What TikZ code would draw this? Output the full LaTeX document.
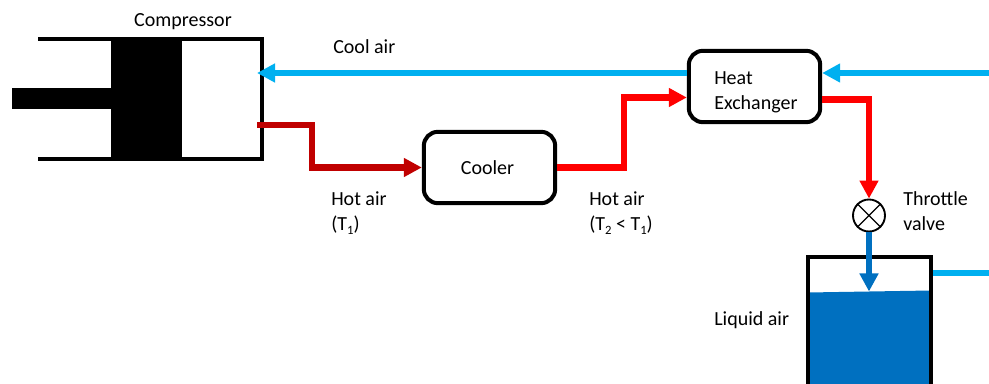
\documentclass[tikz,border=0pt]{standalone}
\usepackage{fontspec}
\setmainfont{Carlito}
\usetikzlibrary{calc,positioning,arrows.meta}
\definecolor{Cool}{HTML}{00B0F0}
\definecolor{Hot}{HTML}{FF0000}
\definecolor{HotDark}{HTML}{C00000}
\definecolor{Liquid}{HTML}{0070C0}
\newcommand{\subnum}[1]{\raisebox{-3pt}{\fontsize{9.5}{10}\selectfont #1}}
\tikzset{
  unitbox/.style={draw=black,fill=white,rounded corners=10.5pt,line width=3pt,minimum width=98.5pt,minimum height=53.5pt,inner sep=0pt,align=left},
  caption/.style={inner sep=0pt,align=left,anchor=west},
  wall/.style={black,line width=3pt,line join=miter},
  pipe/.style={line width=4.6pt,line join=miter},
  flow/.style={pipe,-{Triangle[length=13.5pt,width=13.5pt]}}
}
\begin{document}
\begin{tikzpicture}[x=.75pt,y=-.75pt,font=\fontsize{15}{18.75}\selectfont]
\useasboundingbox (0,0) rectangle (989,384);
% compressor
\draw[wall] (38,39)--(261.5,39)--(261.5,159)--(38,159);
\node[fill=black,minimum width=53.25pt,minimum height=93pt,inner sep=0pt] (piston) at (146.5,99) {};
\node[fill=black,minimum height=15.75pt,minimum width=75pt,inner sep=0pt,anchor=west] (rod) at (12,98.5) {};
\node[inner sep=0pt] (comp) at (183,21.5) {Compressor};
\coordinate (coolin) at (257,73);
\coordinate (hotout) at (257,125);
% boxes
\node[unitbox] (cooler) at (489.5,167.5) {\hspace*{-3pt}Cooler};
\node[unitbox] (hx) at (754.5,86.5) {};
\node[circle,draw=black,fill=white,line width=1.4pt,minimum size=24pt,inner sep=0pt] (valve) at (869,215.5) {};
\draw[black,line width=1pt] (valve.north west)--(valve.south east) (valve.north east)--(valve.south west);
% tank
\fill[Liquid] (808,292.5)--(931,290.5)--(931,384)--(808,384)--cycle;
\draw[wall] (808,384)--(808,257)--(931,257)--(931,384);
\coordinate (tankout) at (933,273);
\coordinate (coldin) at (989,73);
\coordinate (coldout) at (989,273);
\coordinate (hxa) at (hx.west |- coolin);
\coordinate (hxb) at (hx.east |- coolin);
\coordinate (hxc) at (hx.west |- 0,97.5);
\coordinate (hxd) at (hx.east |- 0,99.5);
\coordinate (level) at (869,291.5);
% pipes
\draw[flow,Cool] (hxa)--(coolin);
\draw[flow,Cool] (coldin)--(hxb);
\draw[pipe,Cool] (tankout)--(coldout);
\draw[flow,HotDark] (hotout)-|(312,140)|-(cooler.west);
\draw[flow,Hot] (cooler.east)-|(624,130)|-(hxc);
\draw[flow,Hot] (hxd)-|(valve.north);
\draw[flow,Liquid] (valve.south)--(level);
% labels
\node[caption] (coolair) at (333,47) {Cool air};
\node[caption] (hxname) at (714,92) {Heat\\Exchanger};
\node[caption] (hota) at (331,213) {Hot air\\(T\subnum{1})};
\node[caption] (hotb) at (589,213) {Hot air\\(T\subnum{2} < T\subnum{1})};
\node[caption] (throttle) at (903,211) {Throttle\\valve};
\node[caption] (liquid) at (714,320) {Liquid air};
\end{tikzpicture}
\end{document}
